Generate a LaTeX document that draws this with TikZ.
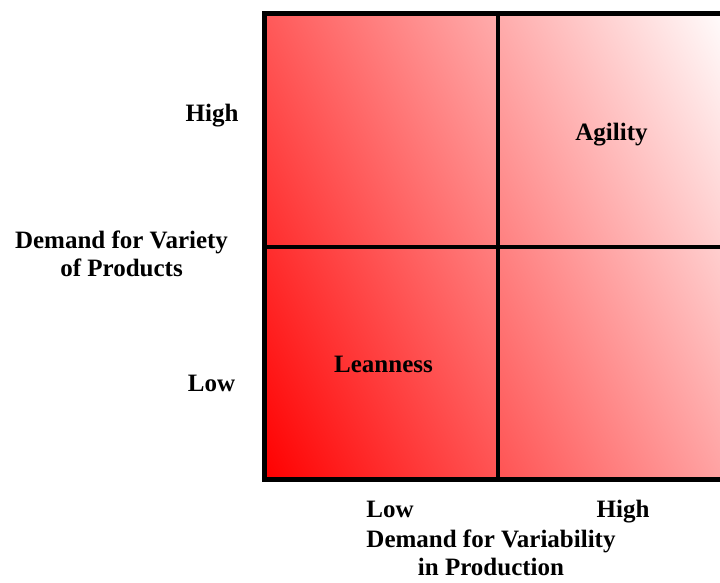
\documentclass[tikz,border=0pt]{standalone}
\usepackage{fontspec}
\setmainfont{Liberation Serif}
\usetikzlibrary{shadings}
\begin{document}
\begin{tikzpicture}[x=1pt,y=-1pt]
\tikzset{lbl/.style={font=\fontsize{25}{28.5}\selectfont\bfseries, align=center, inner sep=0pt, anchor=base}}
\useasboundingbox (0,0) rectangle (720,582);
% corners and centre of the grid
\coordinate (ll) at (264.5,479.7);
\coordinate (ur) at (731.5,13.5);
\coordinate (mid) at (498,246.6);
\shade[lower left=red, upper right=white, upper left=red!65, lower right=red!35] (ll) rectangle (ur);
\path[draw,line width=4pt] (mid |- ur) -- (mid |- ll);
\path[draw,line width=4pt] (mid -| ll) -- (mid -| ur);
\path[draw,line width=4.5pt] (ll) rectangle (ur);
% quadrant labels
\node[lbl] (agil) at (611.5,140.5) {Agility};
\node[lbl] (lean) at (383.5,372.5) {Leanness};
% vertical axis
\node[lbl] (vhigh) at (212,121) {High};
\node[lbl] (vlow) at (211.5,391.5) {Low};
\node[lbl] (vaxis) at (121.5,276.5) {Demand for Variety\\of Products};
% horizontal axis
\node[lbl] (hlow) at (390,517.5) {Low};
\node[lbl] (hhigh) at (623,517.5) {High};
\node[lbl] (haxis) at (491,575.5) {Demand for Variability\\in Production};
\end{tikzpicture}
\end{document}
